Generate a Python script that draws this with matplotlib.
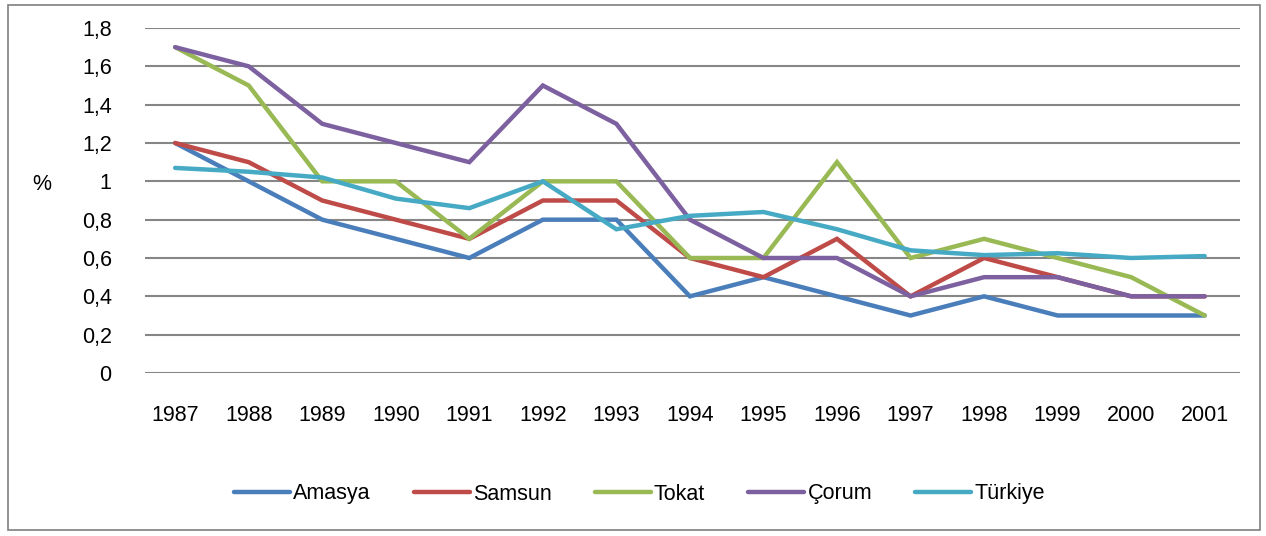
import matplotlib.pyplot as plt
from matplotlib.patches import Rectangle

years = ['1987', '1988', '1989', '1990', '1991', '1992', '1993', '1994',
         '1995', '1996', '1997', '1998', '1999', '2000', '2001']
amasya = [1.2, 1.0, 0.8, 0.7, 0.6, 0.8, 0.8, 0.4, 0.5, 0.4, 0.3, 0.4, 0.3, 0.3, 0.3]
samsun = [1.2, 1.1, 0.9, 0.8, 0.7, 0.9, 0.9, 0.6, 0.5, 0.7, 0.4, 0.6, 0.5, 0.4, 0.4]
tokat = [1.7, 1.5, 1.0, 1.0, 0.7, 1.0, 1.0, 0.6, 0.6, 1.1, 0.6, 0.7, 0.6, 0.5, 0.3]
corum = [1.7, 1.6, 1.3, 1.2, 1.1, 1.5, 1.3, 0.8, 0.6, 0.6, 0.4, 0.5, 0.5, 0.4, 0.4]
turkiye = [1.07, 1.05, 1.02, 0.91, 0.86, 1.0, 0.75, 0.82, 0.84, 0.75, 0.64, 0.615, 0.625, 0.60, 0.61]

series = [('Amasya', amasya, '#4A7EBB'),
          ('Samsun', samsun, '#BE4B48'),
          ('Tokat', tokat, '#98B954'),
          ('Çorum', corum, '#7D60A0'),
          ('Türkiye', turkiye, '#46AAC5')]

yticks = [0, 0.2, 0.4, 0.6, 0.8, 1.0, 1.2, 1.4, 1.6, 1.8]
ytick_labels = ['0', '0,2', '0,4', '0,6', '0,8', '1', '1,2', '1,4', '1,6', '1,8']

plt.rcParams['font.family'] = ['Liberation Sans', 'DejaVu Sans']

fig = plt.figure(figsize=(12.66, 5.36), dpi=100)
ax = fig.add_axes([145 / 1266, 1 - 373 / 536, (1240 - 145) / 1266, (373 - 28) / 536])

x = list(range(len(years)))
for name, vals, col in series:
    ax.plot(x, vals, color=col, lw=3.2, label=name, solid_capstyle='round',
            solid_joinstyle='miter')

ax.set_xlim(-0.41, 14.48)
ax.set_ylim(0, 1.8)
ax.set_yticks(yticks)
ax.set_yticklabels(ytick_labels)
ax.set_xticks(x)
ax.set_xticklabels(years)
ax.tick_params(axis='both', length=0, labelsize=15.5, colors='black')
ax.tick_params(axis='x', pad=23)
ax.tick_params(axis='y', pad=24)
ax.grid(axis='y', color='#868686', lw=1.5)
ax.set_axisbelow(True)
for s in ax.spines.values():
    s.set_visible(False)

fig.text(42 / 1266, 1 - 184 / 536, '%', fontsize=15.5, ha='center', va='center')

fig.legend(loc='center', bbox_to_anchor=(0.505, 1 - 494 / 536), ncol=5,
           frameon=False, fontsize=15.5, handlelength=2.6, handletextpad=0.15,
           columnspacing=2.0)

fig.add_artist(Rectangle((8 / 1266, 1 - 530 / 536), 1252 / 1266, 525 / 536,
                         transform=fig.transFigure, fill=False,
                         edgecolor='#7f7f7f', lw=1.2))

fig.savefig('out.png', dpi=100)
